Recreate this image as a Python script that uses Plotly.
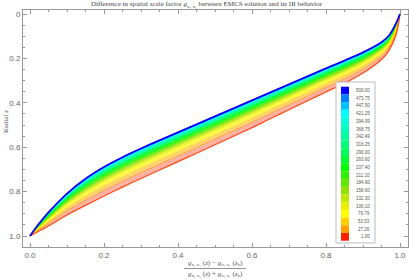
import plotly.graph_objects as go

# ---- data ----
x_grid = [0.0, 0.02, 0.05, 0.1, 0.15, 0.2, 0.25, 0.3, 0.35, 0.4, 0.45, 0.5, 0.55,
          0.6, 0.65, 0.7, 0.75, 0.8, 0.85, 0.9, 0.95, 0.97, 0.99, 1.0]
z_top_500 = [1.0, 0.954, 0.894, 0.809, 0.742, 0.689, 0.645, 0.606, 0.569, 0.533, 0.497, 0.461, 0.425,
             0.389, 0.353, 0.317, 0.281, 0.245, 0.210, 0.173, 0.127, 0.098, 0.040, 0.0]
z_bottom_1 = [1.0, 0.982, 0.955, 0.905, 0.862, 0.820, 0.780, 0.741, 0.703, 0.665, 0.627, 0.589, 0.551,
              0.512, 0.471, 0.431, 0.391, 0.351, 0.312, 0.266, 0.205, 0.165, 0.090, 0.0]
# relative position of each level across the band (0 = top curve, 1 = bottom curve)
level_fraction = [0.0, 0.02, 0.04, 0.07, 0.09, 0.12, 0.15, 0.18, 0.21, 0.24, 0.28, 0.32, 0.36,
                  0.41, 0.46, 0.52, 0.59, 0.68, 0.80, 1.0]
level_labels = ["500.00", "473.75", "447.50", "421.25", "394.99", "368.75", "342.49", "316.25",
                "290.00", "263.60", "237.40", "211.10", "184.90", "158.60", "132.30", "106.10",
                "79.79", "53.53", "27.26", "1.00"]
level_colors = ["#0000ff", "#0080ff", "#00c0ff", "#00ffff", "#00ffd8", "#00ffb8", "#00ff98",
                "#00ff78", "#00ff58", "#00ff30", "#00ff00", "#30f000", "#60e800", "#90e000",
                "#c0e800", "#e8f000", "#ffff00", "#ffd000", "#ffa000", "#ff2000"]
x_ticks = [0, 0.2, 0.4, 0.6, 0.8, 1.0]
x_ticklabels = ["0.0", "0.2", "0.4", "0.6", "0.8", "1.0"]
y_ticks = [0, 0.2, 0.4, 0.6, 0.8, 1.0]
y_ticklabels = ["0", "0.2", "0.4", "0.6", "0.8", "1.0"]

W, H = 409, 280
ML, MR, MT, MB = 23, 1, 10, 33
PW, PH = W - ML - MR, H - MT - MB


def px2paper(px, py):
    return (px - ML) / PW, (H - MB - py) / PH


def hex2rgba(h, a):
    h = h.lstrip("#")
    return "rgba(%d,%d,%d,%.2f)" % (int(h[0:2], 16), int(h[2:4], 16), int(h[4:6], 16), a)


fig = go.Figure()
n = len(level_fraction)
for j, f in enumerate(level_fraction):
    zj = [t + f * (b - t) for t, b in zip(z_top_500, z_bottom_1)]
    alpha = 0.95 - 0.6 * f
    if j == n - 1:
        lw, lc = 1.2, "#ff4a10"
    else:
        lw, lc = 0.8, level_colors[j]
    fig.add_trace(go.Scatter(
        x=x_grid, y=zj, mode="lines",
        line=dict(color=lc, width=lw, shape="spline", smoothing=0.8),
        fill=None if j == 0 else "tonexty",
        fillcolor=hex2rgba(level_colors[j], alpha),
        showlegend=False, hoverinfo="skip"))

# redraw top curve on top
fig.add_trace(go.Scatter(x=x_grid, y=z_top_500, mode="lines",
                         line=dict(color=level_colors[0], width=1.8, shape="spline", smoothing=0.8),
                         showlegend=False, hoverinfo="skip"))

axis_common = dict(showgrid=False, zeroline=False, showline=True, linecolor="#999999", linewidth=1,
                   mirror="allticks", ticks="inside", ticklen=4, tickcolor="#999999", automargin=False,
                   tickfont=dict(family="Liberation Sans", size=8, color="#666666"),
                   minor=dict(ticks="inside", ticklen=2, tickcolor="#999999", dtick=0.05, showgrid=False))

fig.update_xaxes(range=[-7 / 370, 1 + 8 / 370], tickvals=x_ticks, ticktext=x_ticklabels, **axis_common)
fig.update_yaxes(range=[1 + 11 / 222, -4 / 222], tickvals=y_ticks, ticktext=y_ticklabels, **axis_common)

shapes = []
annotations = []

# legend box
bx0, by0 = px2paper(336, 243)
bx1, by1 = px2paper(375, 82)
shapes.append(dict(type="rect", xref="paper", yref="paper", x0=bx0, y0=by0, x1=bx1, y1=by1,
                   fillcolor="white", line=dict(color="#bbbbbb", width=1), layer="above"))
row_h = 7.7
top0 = 86.7
for j in range(n):
    sx0, sy0 = px2paper(341, top0 + row_h * (j + 1))
    sx1, sy1 = px2paper(349, top0 + row_h * j)
    shapes.append(dict(type="rect", xref="paper", yref="paper", x0=sx0, y0=sy0, x1=sx1, y1=sy1,
                       fillcolor=level_colors[j], line=dict(width=0), layer="above"))
    lx, ly = px2paper(372, top0 + row_h * (j + 0.5))
    annotations.append(dict(xref="paper", yref="paper", x=lx, y=ly, text=level_labels[j],
                            showarrow=False, xanchor="right", yanchor="middle",
                            font=dict(family="Liberation Sans", size=4.5, color="#555555")))

# x-axis label as a fraction
g = "<i>g</i><sub>x₁ x₁</sub>"
nx, ny = px2paper(215, 263)
annotations.append(dict(xref="paper", yref="paper", x=nx, y=ny,
                        text=g + " (<i>z</i>) − " + g + " (<i>z</i><sub>h</sub>)",
                        showarrow=False, xanchor="center", yanchor="middle",
                        font=dict(family="Liberation Serif", size=7, color="#555555")))
dx, dy = px2paper(215, 274)
annotations.append(dict(xref="paper", yref="paper", x=dx, y=dy,
                        text=g + " (<i>z</i>) + " + g + " (<i>z</i><sub>h</sub>)",
                        showarrow=False, xanchor="center", yanchor="middle",
                        font=dict(family="Liberation Serif", size=7, color="#555555")))
fx0, fy = px2paper(184, 268.5)
fx1, _ = px2paper(246, 268.5)
shapes.append(dict(type="line", xref="paper", yref="paper", x0=fx0, x1=fx1, y0=fy, y1=fy,
                   line=dict(color="#777777", width=0.8)))

# y-axis label
yx, yy = px2paper(6, 122)
annotations.append(dict(xref="paper", yref="paper", x=yx, y=yy, text="Radial z", textangle=-90,
                        showarrow=False, xanchor="center", yanchor="middle",
                        font=dict(family="Liberation Serif", size=7, color="#555555")))

fig.update_layout(
    width=W, height=H,
    margin=dict(l=ML, r=MR, t=MT, b=MB, autoexpand=False),
    paper_bgcolor="white", plot_bgcolor="white",
    title=dict(text="Difference in spatial scale factor <i>g</i><sub>x₁ x₁</sub> between EMCS solution and its IR behavior",
               x=0.505, xanchor="center", y=0.995, yanchor="top", yref="container",
               font=dict(family="Liberation Serif", size=7, color="#444444")),
    shapes=shapes, annotations=annotations,
)

fig.write_html("out.html", config={"displayModeBar": False},
               post_script="document.body.style.margin='0';document.body.style.padding='0';document.documentElement.style.overflow='hidden';")
